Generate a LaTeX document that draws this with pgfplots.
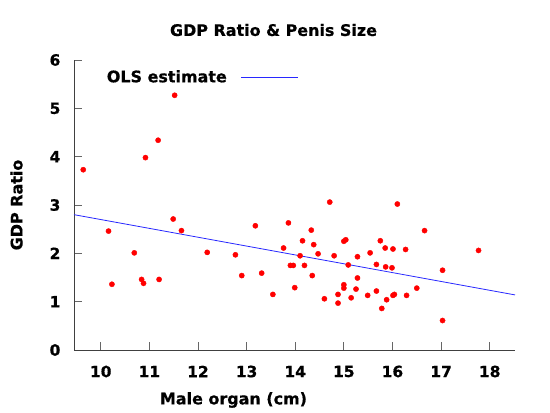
\documentclass[border=0pt]{standalone}
\usepackage{fontspec}
\setmainfont{DejaVu Sans}[BoldFeatures={FakeBold=0.6}]
\usepackage{pgfplots}
\pgfplotsset{compat=1.18}
\begin{document}
\begin{tikzpicture}
\begin{axis}[
  at={(0,0)}, anchor=south west,
  scale only axis, width=441bp, height=290bp,
  xmin=9.45, xmax=18.52, ymin=0, ymax=6,
  axis x line*=bottom, axis y line*=left,
  axis line style={-, draw=black!75, line width=0.8bp},
  xtick={10,...,18}, ytick={0,...,6},
  tick align=inside, major tick length=8bp,
  tick style={draw=black!60, line width=0.8bp},
  every tick label/.append style={font=\fontsize{15.5}{18}\selectfont\bfseries},
  /pgf/number format/assume math mode=true,
  xticklabel style={anchor=center, yshift=-21.5bp},
  yticklabel style={anchor=center, xshift=-19bp},
  legend plot pos=right,
  legend style={draw=none, fill=none, inner sep=0pt, anchor=west,
    at={(axis description cs:0.0741,0.9414)},
    nodes={inner sep=0pt, font=\fontsize{16}{18}\selectfont\bfseries}},
  legend image code/.code={\path (0bp,0bp); \draw[#1] (14bp,0bp) -- (71bp,0bp);},
  clip=false,
]
\addplot[only marks, color=red, mark=*, mark size=2.6bp, mark options={draw=none, fill=red}, forget plot] coordinates {
(9.64,3.73) (10.16,2.46) (10.23,1.36) (10.69,2.01) (10.84,1.46) (10.88,1.38)
(10.92,3.98) (11.18,4.34) (11.20,1.46) (11.49,2.71) (11.52,5.27) (11.66,2.47)
(12.19,2.02) (12.77,1.97) (12.90,1.54) (13.18,2.57) (13.31,1.59) (13.54,1.15)
(13.76,2.11) (13.86,2.63) (13.90,1.75) (13.96,1.75) (13.99,1.29) (14.10,1.95)
(14.15,2.26) (14.19,1.75) (14.33,2.48) (14.35,1.54) (14.38,2.18) (14.47,1.99)
(14.60,1.06) (14.71,3.06) (14.80,1.95) (14.88,1.15) (14.88,0.97) (15.00,2.25)
(15.04,2.28) (15.00,1.35) (15.00,1.28) (15.09,1.76) (15.15,1.08) (15.25,1.26)
(15.28,1.93) (15.28,1.49) (15.49,1.13) (15.54,2.01) (15.67,1.77) (15.67,1.22)
(15.75,2.26) (15.78,0.86) (15.85,2.11) (15.86,1.72) (15.88,1.04) (15.99,1.70)
(16.01,2.09) (16.01,1.13) (16.04,1.15) (16.10,3.02) (16.27,2.08) (16.29,1.13)
(16.50,1.28) (16.66,2.47) (17.03,1.65) (17.03,0.61) (17.77,2.06)
};
\addplot[draw={rgb,255:red,40;green,40;blue,255}, line width=0.8bp, no marks] coordinates {(9.45,2.80) (18.52,1.14)};
\addlegendentry{OLS estimate}
\end{axis}
\node[font=\fontsize{16}{18}\selectfont\bfseries] at (199.5bp,320bp) {GDP Ratio \& Penis Size};
\node[font=\fontsize{16}{18}\selectfont\bfseries] at (159.5bp,-50bp) {Male organ (cm)};
\node[font=\fontsize{16}{18}\selectfont\bfseries, rotate=90] at (-57.5bp,145bp) {GDP Ratio};
\path[use as bounding box] (-74bp,-63bp) rectangle (476bp,350bp);
\end{tikzpicture}
\end{document}
